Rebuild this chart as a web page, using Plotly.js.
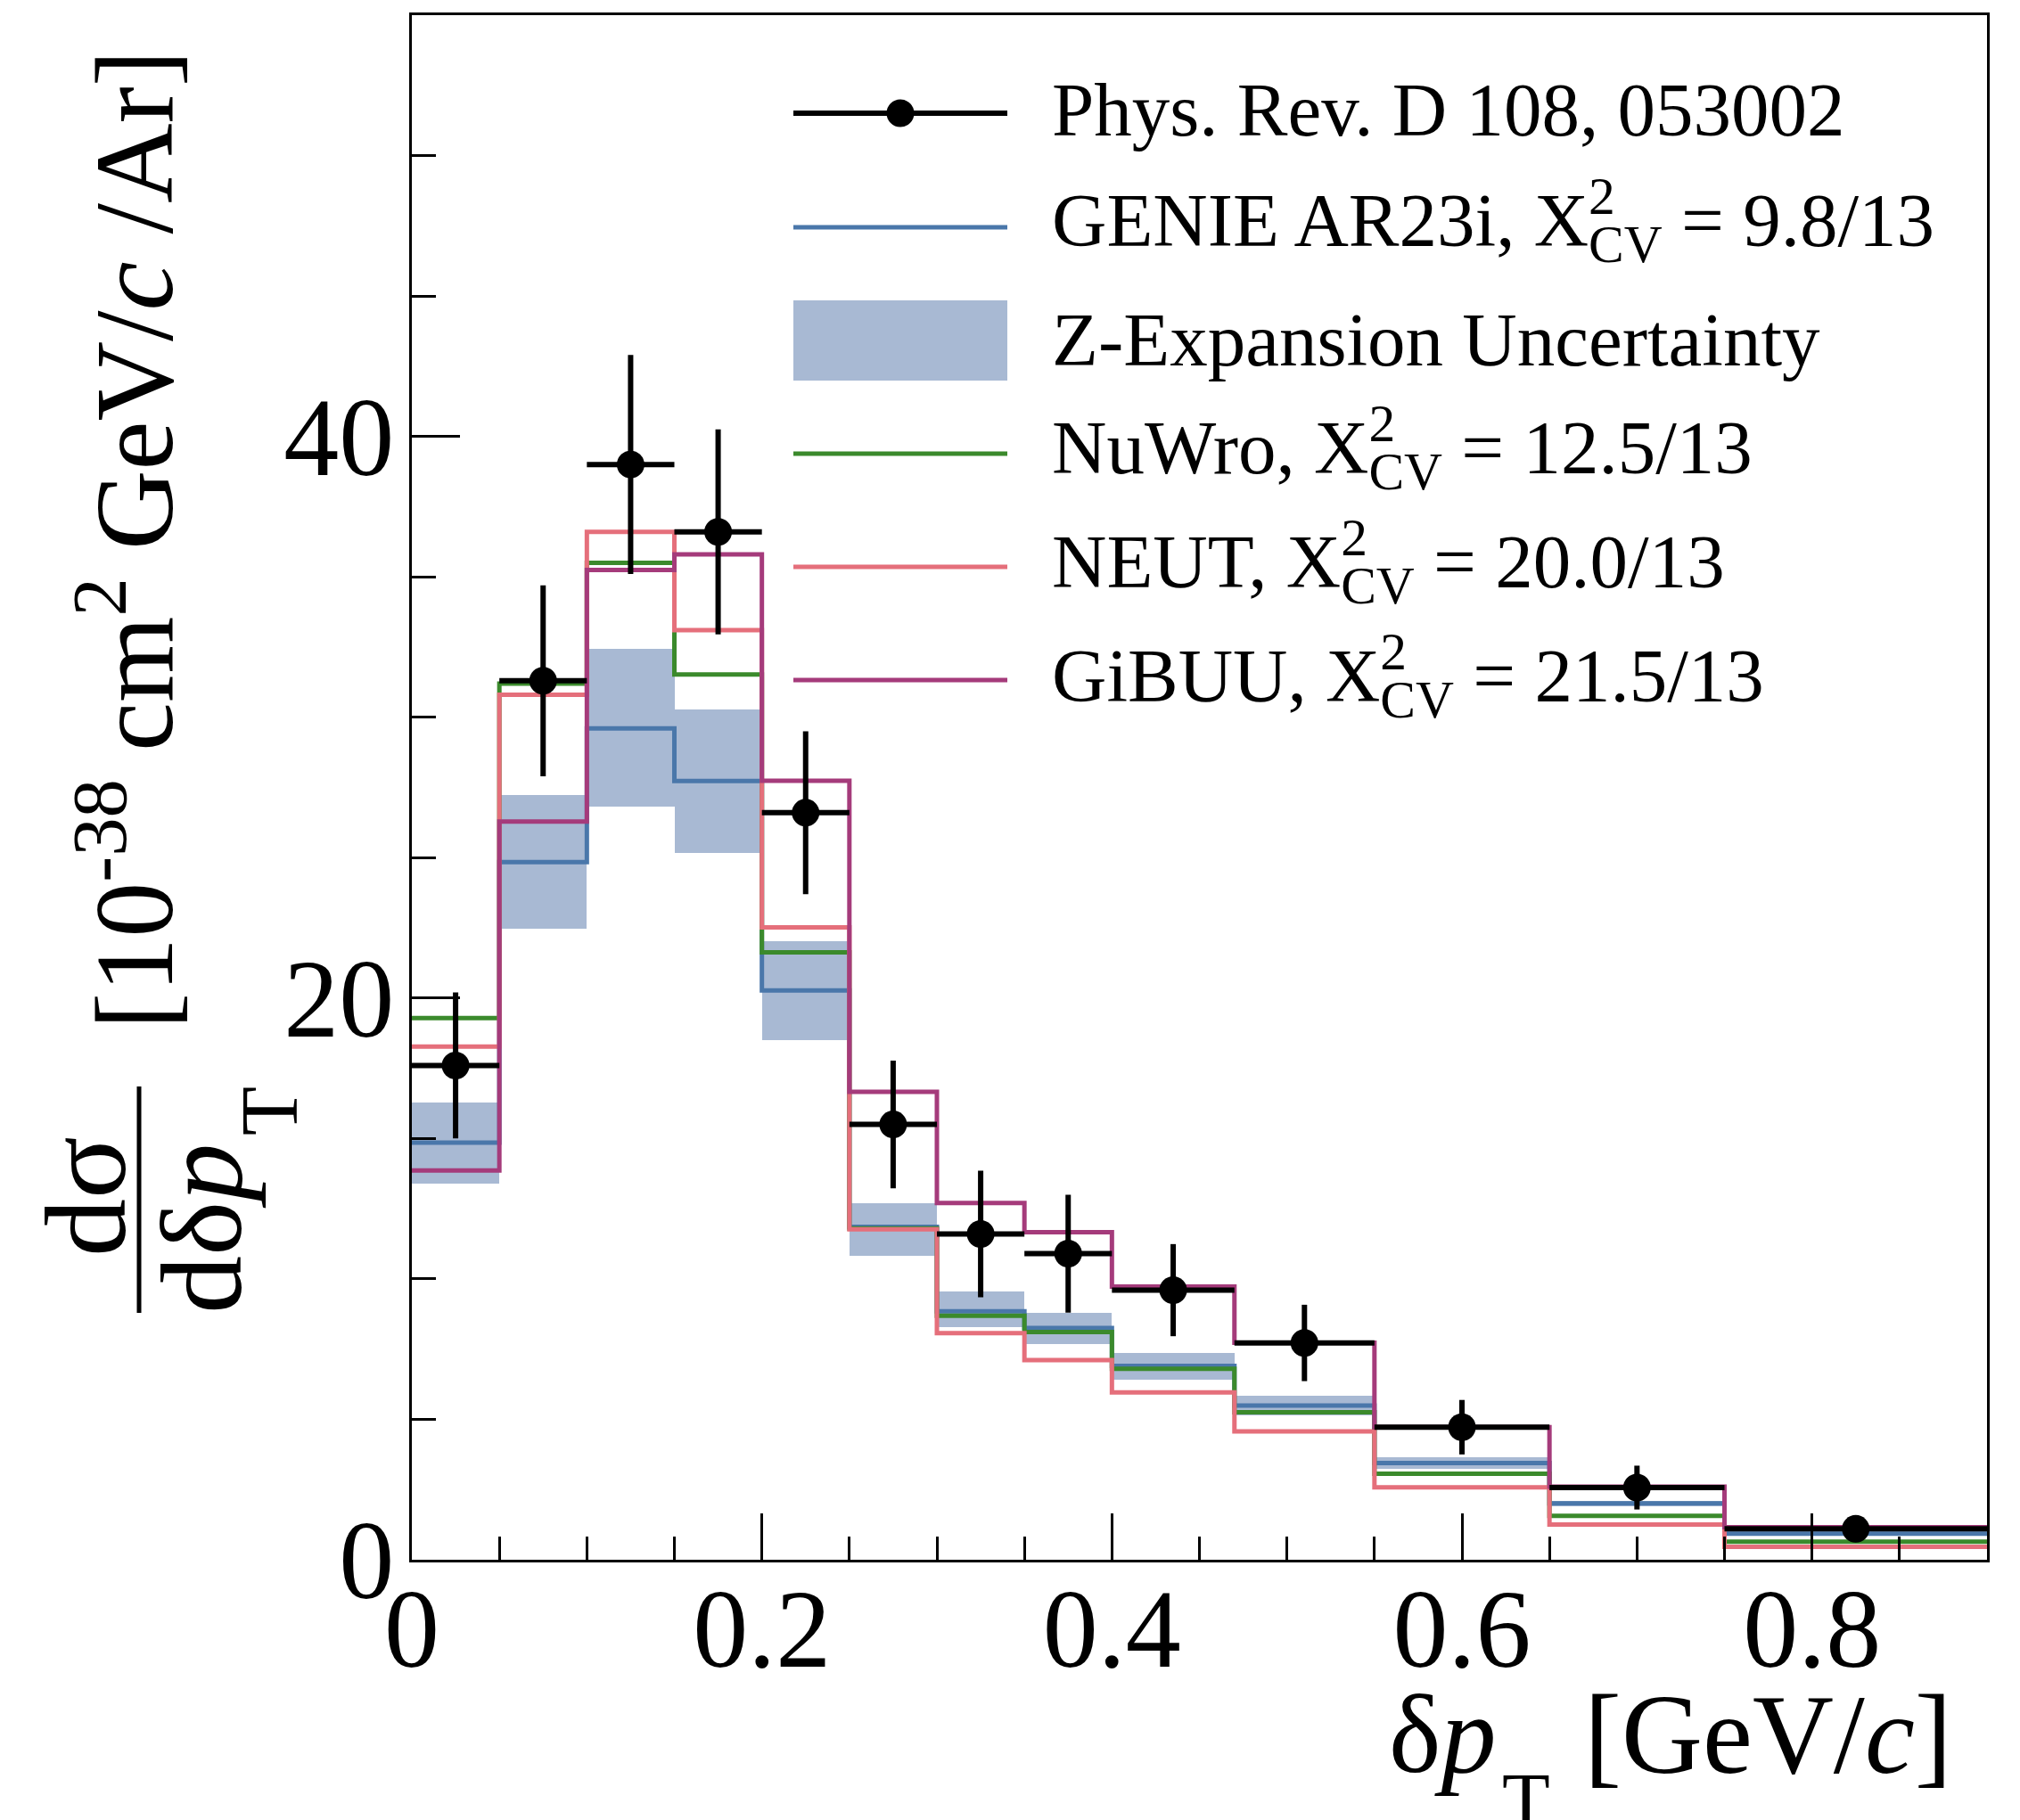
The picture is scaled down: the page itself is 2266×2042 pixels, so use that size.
<!DOCTYPE html>
<html>
<head>
<meta charset="utf-8">
<script src="https://cdn.plot.ly/plotly-3.0.1.min.js"></script>
<style>
  html, body { margin: 0; padding: 0; background: #ffffff; }
  #chart { width: 2266px; height: 2042px; }
</style>
</head>
<body>
<div id="chart"></div>
<script>
// ---- data ----
const binEdges = [0, 0.05, 0.1, 0.15, 0.2, 0.25, 0.3, 0.35, 0.4, 0.47, 0.55, 0.65, 0.75, 0.9];
const dataVals = [17.6, 31.3, 39.0, 36.6, 26.6, 15.5, 11.6, 10.9, 9.6, 7.72, 4.72, 2.57, 1.1];
const dataErr  = [2.6, 3.4, 3.9, 3.65, 2.9, 2.27, 2.25, 2.1, 1.64, 1.36, 0.97, 0.78, 0.3];
const genieVals = [14.85, 24.84, 29.6, 27.73, 20.27, 11.85, 8.85, 8.25, 6.9, 5.49, 3.44, 2.01, 0.93];
const bandLo    = [13.4, 22.46, 26.83, 25.18, 18.51, 10.81, 8.29, 7.69, 6.42, 5.14, 3.25, 1.92, 0.86];
const bandHi    = [16.28, 27.23, 32.44, 30.27, 22.01, 12.68, 9.56, 8.78, 7.35, 5.83, 3.66, 2.1, 1.0];
const nuwroVals = [19.29, 31.2, 35.5, 31.52, 21.63, 11.8, 8.69, 8.11, 6.8, 5.25, 3.06, 1.56, 0.64];
const neutVals  = [18.27, 30.8, 36.6, 33.1, 22.52, 11.77, 8.07, 7.11, 5.96, 4.57, 2.58, 1.25, 0.46];
const gibuuVals = [13.86, 26.29, 35.24, 35.8, 27.74, 16.66, 12.7, 11.66, 9.73, 7.73, 4.72, 2.6, 1.16];

const xTickVals = [0, 0.2, 0.4, 0.6, 0.8];
const xTickText = ["0", "0.2", "0.4", "0.6", "0.8"];
const yTickVals = [0, 20, 40];
const yTickText = ["0", "20", "40"];

const X2 = 'X<sup><span style="letter-spacing:-0.5em">2</span></sup><sub>CV</sub>';
const legendLabels = [
  "Phys. Rev. D 108, 053002",
  "GENIE AR23i, " + X2 + " = 9.8/13",
  "Z-Expansion Uncertainty",
  "NuWro, " + X2 + " = 12.5/13",
  "NEUT, " + X2 + " = 20.0/13",
  "GiBUU, " + X2 + " = 21.5/13"
];

// ---- styles ----
const C_BLUE = "#4a77aa", C_BAND = "#a8b9d3", C_GREEN = "#3b8a2c", C_PINK = "#e56f7b", C_PURPLE = "#a53b7b";
const FONT = "Liberation Serif, Times New Roman, serif";

// ---- derived ----
const centers = binEdges.slice(0, -1).map((e, i) => (e + binEdges[i + 1]) / 2);
const widths = binEdges.slice(0, -1).map((e, i) => binEdges[i + 1] - e);
const halfW = widths.map(w => w / 2);
const stepY = v => v.concat([v[v.length - 1]]);

function stepTrace(vals, color, name) {
  return { type: "scatter", mode: "lines", x: binEdges, y: stepY(vals), name: name,
    line: { shape: "hv", color: color, width: 5 }, showlegend: false, hoverinfo: "skip" };
}

const traces = [
  { type: "bar", x: centers, width: widths, base: bandLo,
    y: bandHi.map((h, i) => h - bandLo[i]), marker: { color: C_BAND, line: { width: 0 } },
    showlegend: false, hoverinfo: "skip", name: "Z-Expansion Uncertainty" },
  stepTrace(genieVals, C_BLUE, "GENIE"),
  stepTrace(nuwroVals, C_GREEN, "NuWro"),
  stepTrace(neutVals, C_PINK, "NEUT"),
  stepTrace(gibuuVals, C_PURPLE, "GiBUU"),
  { type: "scatter", mode: "markers", x: centers, y: dataVals, name: "Data",
    marker: { color: "#000", size: 31 },
    error_x: { type: "data", array: halfW, color: "#000", thickness: 6, width: 0 },
    error_y: { type: "data", array: dataErr, color: "#000", thickness: 6, width: 0 },
    showlegend: false }
];

// ---- layout helpers (paper coordinates of the drawing frame) ----
const L = 462, R = 2229, T = 17, B = 1750;
const px = v => (v - L) / (R - L);
const py = v => (B - v) / (B - T);

const rowY = [123, 253, 381, 508, 636, 764];
const symY = [127, 255, 383, 509, 636, 763];
const rowStyles = [
  { kind: "data" }, { kind: "line", color: C_BLUE }, { kind: "band" },
  { kind: "line", color: C_GREEN }, { kind: "line", color: C_PINK }, { kind: "line", color: C_PURPLE }
];
const shapes = [];
const annotations = [];
rowStyles.forEach((s, i) => {
  const yy = py(symY[i]);
  if (s.kind === "band") {
    shapes.push({ type: "rect", xref: "paper", yref: "paper", x0: px(890), x1: px(1130),
      y0: py(427), y1: py(337), fillcolor: C_BAND, line: { width: 0 } });
  } else {
    shapes.push({ type: "line", xref: "paper", yref: "paper", x0: px(890), x1: px(1130),
      y0: yy, y1: yy, line: { color: s.kind === "data" ? "#000" : s.color, width: s.kind === "data" ? 6 : 5 } });
  }
  if (s.kind === "data") {
    shapes.push({ type: "circle", xref: "paper", yref: "paper", xsizemode: "pixel", ysizemode: "pixel",
      xanchor: px(1010), yanchor: yy, x0: -15.5, x1: 15.5, y0: -15.5, y1: 15.5,
      fillcolor: "#000", line: { width: 0 } });
  }
  annotations.push({ xref: "paper", yref: "paper", x: px(1178), y: py(rowY[i]), xanchor: "left", yanchor: "middle",
    text: legendLabels[i], showarrow: false, font: { family: FONT, size: 85, color: "#000" } });
});

// y-axis title pieces
annotations.push({ xref: "paper", yref: "paper", x: px(142), y: py(606), xanchor: "center", yanchor: "middle",
  textangle: -90, showarrow: false, text: "[10<sup>-38</sup> cm<sup>2</sup> GeV/<i>c</i> /Ar]",
  font: { family: FONT, size: 124, color: "#000" } });
annotations.push({ xref: "paper", yref: "paper", x: px(96), y: py(1343), xanchor: "center", yanchor: "middle",
  textangle: -90, showarrow: false, text: "dσ", font: { family: FONT, size: 130, color: "#000" } });
annotations.push({ xref: "paper", yref: "paper", x: px(226), y: py(1378), xanchor: "center", yanchor: "middle",
  textangle: -90, showarrow: false, text: "dδ<i>p</i>", font: { family: FONT, size: 130, color: "#000" } });
annotations.push({ xref: "paper", yref: "paper", x: px(303), y: py(1247), xanchor: "center", yanchor: "middle",
  textangle: -90, showarrow: false, text: "T", font: { family: FONT, size: 90, color: "#000" } });
shapes.push({ type: "line", xref: "paper", yref: "paper", x0: px(156), x1: px(156), y0: py(1473), y1: py(1219),
  line: { color: "#000", width: 5 } });

// x-axis title pieces
annotations.push({ xref: "paper", yref: "paper", x: px(1680), y: py(1946), xanchor: "right", yanchor: "middle",
  showarrow: false, text: "δ<i>p</i>", font: { family: FONT, size: 124, color: "#000" } });
annotations.push({ xref: "paper", yref: "paper", x: px(1712), y: py(2020), xanchor: "center", yanchor: "middle",
  showarrow: false, text: "T", font: { family: FONT, size: 88, color: "#000" } });
annotations.push({ xref: "paper", yref: "paper", x: px(2192), y: py(1946), xanchor: "right", yanchor: "middle",
  showarrow: false, text: "[GeV/<i>c</i>]", font: { family: FONT, size: 126, color: "#000" } });

const axisCommon = {
  showline: true, mirror: true, linecolor: "#000", linewidth: 3,
  ticks: "inside", tickcolor: "#000", tickwidth: 3,
  showgrid: false, zeroline: false, fixedrange: true,
  tickfont: { family: FONT, size: 124, color: "#000" }
};

const layout = {
  width: 2266, height: 2042,
  margin: { l: L, r: 2266 - R, t: T, b: 2042 - B, pad: 0 },
  paper_bgcolor: "#fff", plot_bgcolor: "#fff",
  font: { family: FONT, color: "#000" },
  showlegend: false, barmode: "overlay", bargap: 0,
  xaxis: Object.assign({}, axisCommon, {
    range: [0, 0.9], tickmode: "array", tickvals: xTickVals, ticktext: xTickText, ticklen: 52,
    minor: { dtick: 0.05, tick0: 0, ticks: "inside", ticklen: 26, tickwidth: 3, tickcolor: "#000", showgrid: false },
    ticklabelstandoff: -32
  }),
  yaxis: Object.assign({}, axisCommon, {
    range: [0, 55], tickmode: "array", tickvals: yTickVals, ticktext: yTickText, ticklen: 54,
    minor: { dtick: 5, tick0: 0, ticks: "inside", ticklen: 27, tickwidth: 3, tickcolor: "#000", showgrid: false },
    ticklabelstandoff: -8
  }),
  shapes: shapes,
  annotations: annotations
};

Plotly.newPlot("chart", traces, layout, { displayModeBar: false, staticPlot: true });
</script>
</body>
</html>
